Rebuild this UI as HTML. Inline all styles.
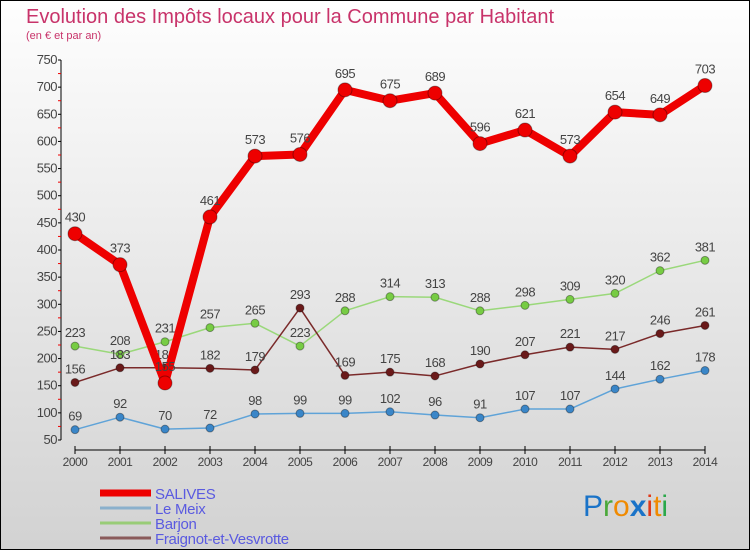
<!DOCTYPE html>
<html><head><meta charset="utf-8"><style>
html,body{margin:0;padding:0}
body{width:750px;height:550px;overflow:hidden;font-family:"Liberation Sans",sans-serif}
#wrap{position:absolute;left:0;top:0;width:748px;height:548px;border:1px solid #000;background:linear-gradient(#fefefe,#d2d2d2)}
</style></head><body>
<div id="wrap">
<svg id="chart" width="750" height="550" style="position:absolute;left:-1px;top:-1px">
<text x="26" y="23" font-size="20" fill="#c8336a">Evolution des Impôts locaux pour la Commune par Habitant</text>
<text x="26" y="39" font-size="11" fill="#c8336a">(en € et par an)</text>
<g id="axes"></g><g id="series"></g><g id="legend"></g>
<text x="583" y="516" font-size="30"><tspan fill="#1a73c8">P</tspan><tspan fill="#4aa83a">r</tspan><tspan fill="#f08a00">o</tspan><tspan fill="#1a73c8" font-weight="bold">x</tspan><tspan fill="#e03a1a">i</tspan><tspan fill="#f08a00">t</tspan><tspan fill="#2aa84a">i</tspan></text>
</svg></div>
<script>
const years=[2000,2001,2002,2003,2004,2005,2006,2007,2008,2009,2010,2011,2012,2013,2014];
const salives=[430,373,155,461,573,576,695,675,689,596,621,573,654,649,703];
const salivesLabels=[430,373,155,461,573,576,695,675,689,596,621,573,654,649,703];
const leMeix=[69,92,70,72,98,99,99,102,96,91,107,107,144,162,178];
const barjon=[223,208,231,257,265,223,288,314,313,288,298,309,320,362,381];
const fraignot=[156,183,183,182,179,293,169,175,168,190,207,221,217,246,261];
const yTicks=[50,100,150,200,250,300,350,400,450,500,550,600,650,700,750];
const NS='http://www.w3.org/2000/svg';
const X=i=>75+i*45;
const Y=v=>440-(v-50)*380/700;
function mk(tag,attrs,parent){const e=document.createElementNS(NS,tag);for(const k in attrs)e.setAttribute(k,attrs[k]);parent.appendChild(e);return e;}
const axes=document.getElementById('axes');
const yl=mk('line',{x1:61,y1:60,x2:61,y2:440,stroke:'#000','stroke-width':1},axes);


yTicks.forEach((t,i)=>{
  const tk=mk('line',{x1:58,y1:Y(t),x2:61,y2:Y(t),stroke:'#000'},axes);
  
  
  if(i<yTicks.length-1){const m=mk('line',{x1:58,y1:Y(t+25),x2:61,y2:Y(t+25),stroke:'#e00'},axes);
  
  }
  const tx=mk('text',{x:57,y:Y(t)+4,'font-size':13,fill:'#444','text-anchor':'end','letter-spacing':'-0.5'},axes);
  tx.textContent=t;
  
  
});
const xl=mk('line',{x1:X(0),y1:450,x2:X(14),y2:450,stroke:'#000'},axes);


years.forEach((y,i)=>{
  const tk=mk('line',{x1:X(i),y1:446,x2:X(i),y2:454,stroke:'#000'},axes);
  
  
  const tx=mk('text',{x:X(i),y:466,'font-size':12,fill:'#444','text-anchor':'middle','letter-spacing':'-0.5'},axes);
  tx.textContent=y;
  
  
});
const sg=document.getElementById('series');
function draw(vals,labels,color,dot,w,r,name){
  const g=mk('g',{},sg);
  
  
  const p=mk('polyline',{points:vals.map((v,i)=>X(i)+','+Y(v)).join(' '),fill:'none',stroke:color,'stroke-width':w,'stroke-linejoin':'round'},g);
  
  
  vals.forEach((v,i)=>{
    const c=mk('circle',{cx:X(i),cy:Y(v),r:r,fill:dot,stroke:'rgba(0,0,0,0.35)','stroke-width':1},g);
    
    
    const t=mk('text',{x:X(i),y:Y(v)-r-5,'font-size':13,fill:'#444','text-anchor':'middle','letter-spacing':'-0.5'},g);
    t.textContent=labels[i];
    
    
  });
}
draw(leMeix,leMeix,'#5fa3d8','#3a86c8',1.5,4,'le-meix');
draw(barjon,barjon,'#9ad87a','#77cc44',1.5,4,'barjon');
draw(fraignot,fraignot,'#7a2a2a','#6a1a1a',1.5,4,'fraignot');
draw(salives,salivesLabels,'#ee0000','#ee0000',8,7,'salives');
const lg=document.getElementById('legend');
[['SALIVES','#ee0000',7],['Le Meix','#8ab0cc',3],['Barjon','#99cc77',3],['Fraignot-et-Vesvrotte','#8a5a5a',3]].forEach((e,i)=>{
  const y=493+i*15;
  const l=mk('line',{x1:100,y1:y,x2:151,y2:y,stroke:e[1],'stroke-width':e[2]},lg);
  
  
  const t=mk('text',{x:155,y:y+6,'font-size':15,fill:'#5a5ae0','letter-spacing':'-0.3'},lg);
  t.textContent=e[0];
  
  
});
</script>
</body></html>
